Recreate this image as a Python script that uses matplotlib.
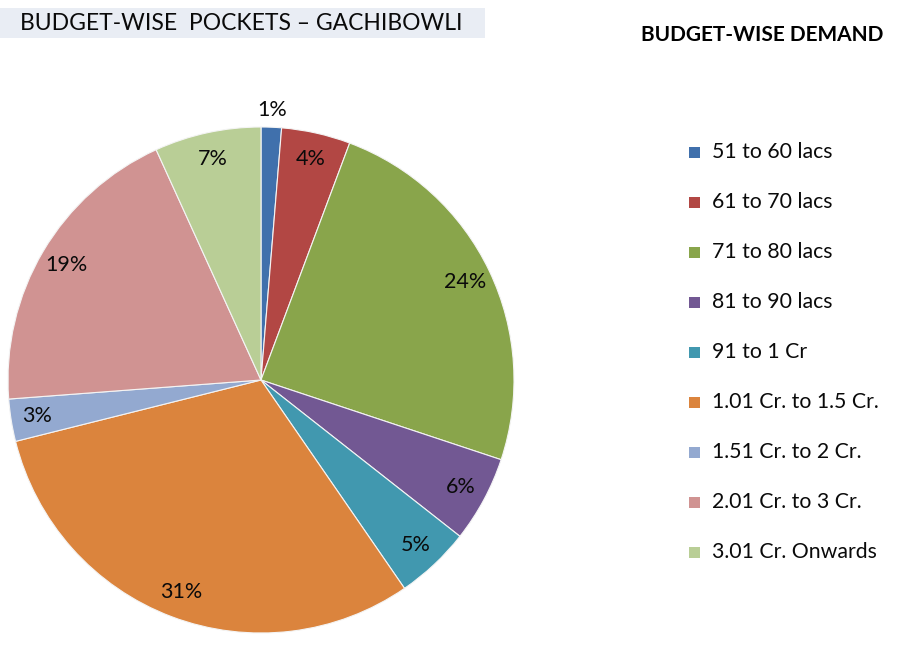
import matplotlib
matplotlib.use("Agg")
import matplotlib.pyplot as plt
from matplotlib.patches import Rectangle
import numpy as np

categories = ["51 to 60 lacs", "61 to 70 lacs", "71 to 80 lacs", "81 to 90 lacs",
              "91 to 1 Cr", "1.01 Cr. to 1.5 Cr.", "1.51 Cr. to 2 Cr.",
              "2.01 Cr. to 3 Cr.", "3.01 Cr. Onwards"]
shares = [1.3, 4.4, 24.4, 5.5, 4.8, 30.7, 2.7, 19.4, 6.8]
pct_labels = ["1%", "4%", "24%", "6%", "5%", "31%", "3%", "19%", "7%"]
colors = ["#4070AC", "#B24744", "#89A54B", "#725893", "#4198AF",
          "#DB843D", "#93A9D0", "#D09392", "#B9CE96"]

title = "BUDGET-WISE  POCKETS – GACHIBOWLI"
legend_title = "BUDGET-WISE DEMAND"

FONT = ["Lato", "DejaVu Sans"]
plt.rcParams["font.family"] = FONT

fig = plt.figure(figsize=(9, 6.47), dpi=100)
W, H = 900, 647

# pie axes: center (261,380) px, radius 253 px
cx, cy, r = 261, 380, 253
ax = fig.add_axes([(cx - r) / W, (H - cy - r) / H, 2 * r / W, 2 * r / H])
wedges, _ = ax.pie(shares, colors=colors, startangle=90, counterclock=False,
                   radius=1.0, wedgeprops=dict(edgecolor="#f4f4f4", linewidth=0.8))
ax.set_xlim(-1, 1)
ax.set_ylim(-1, 1)
ax.set_aspect("equal")
ax.axis("off")

cum = np.cumsum([0] + shares)
total = sum(shares)
for i, lab in enumerate(pct_labels):
    mid = 90 - 360 * (cum[i] + shares[i] / 2) / total
    d = 1.07 if shares[i] < 2 else 0.895
    x = d * np.cos(np.radians(mid))
    y = d * np.sin(np.radians(mid))
    ax.text(x, y, lab, ha="center", va="center", fontsize=15.5, color="#0a0a0a")

# title box
fig.patches.append(Rectangle((0, (H - 38) / H), 485 / W, 30 / H,
                             transform=fig.transFigure, facecolor="#E9EDF4",
                             edgecolor="none", zorder=0))
fig.text(20 / W, (H - 24) / H, title, ha="left", va="center", fontsize=16.5,
         color="#0a0a0a")

# legend
fig.text(641 / W, (H - 35) / H, legend_title, ha="left", va="center",
         fontsize=15, fontweight="bold", color="#000000")
for i, (cat, col) in enumerate(zip(categories, colors)):
    yc = 152 + 50 * i
    fig.patches.append(Rectangle((689 / W, (H - yc - 5.5) / H), 11 / W, 11 / H,
                                 transform=fig.transFigure, facecolor=col,
                                 edgecolor="none"))
    fig.text(712 / W, (H - yc) / H, cat, ha="left", va="center",
             fontsize=15.3, color="#0a0a0a")

fig.savefig("out.png", dpi=100)
